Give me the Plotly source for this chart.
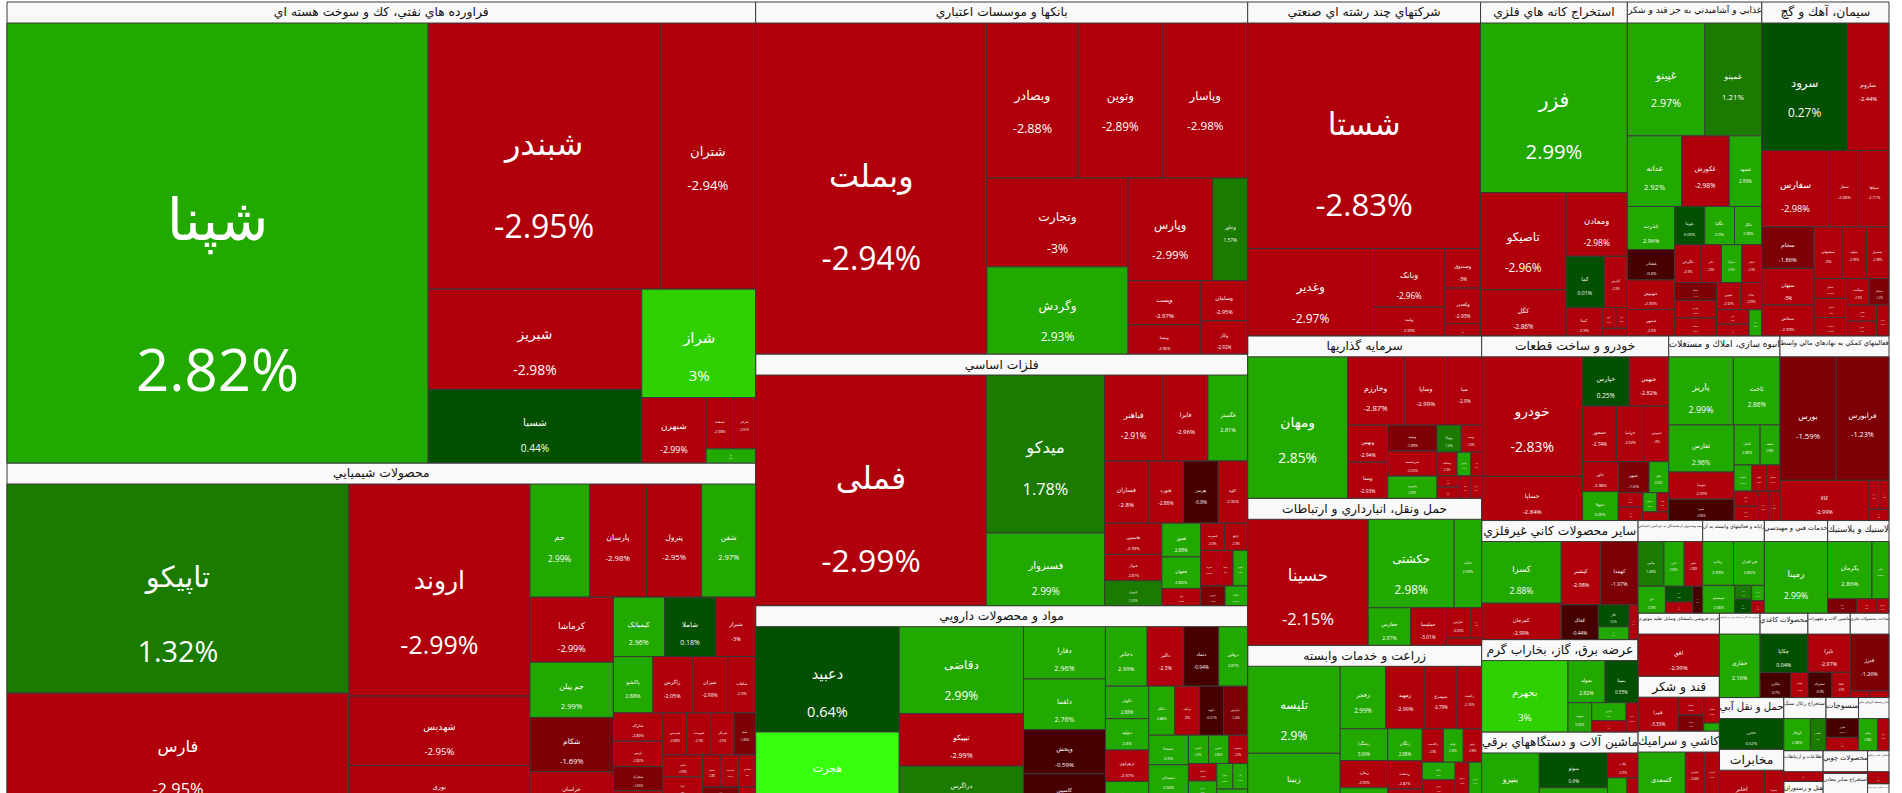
import plotly.graph_objects as go

# ------------------------------------------------------------------
# Data: (ticker, market value, daily change %) for every sector
# ------------------------------------------------------------------
OIL = [("شپنا", 192200, 2.82), ("شبندر", 64000, -2.95), ("شتران", 26400, -2.94),
       ("شبریز", 22200, -2.98), ("شسپا", 16300, 0.44), ("شراز", 12800, 3.0),
       ("شبهرن", 4370, -2.99), ("شنفت", 1460, -2.98), ("شرانل", 1180, -2.91), ("شاوان", 730, 2.99)]

CHEM = [("تاپیکو", 75300, 1.32), ("فارس", 42800, -2.95), ("اروند", 40450, -2.99),
        ("شهدیس", 13230, -2.95), ("نوری", 8880, -2.97), ("جم", 7100, 2.99),
        ("پارسان", 6800, -2.98), ("پترول", 6560, -2.95), ("شفن", 6440, 2.97),
        ("کرماشا", 5720, -2.99), ("جم پیلن", 4850, 2.99), ("شکام", 4760, -1.69),
        ("خراسان", 3550, -2.9), ("کیمیاتک", 3200, 2.96), ("شاملا", 3200, 0.18),
        ("شیراز", 2500, -3.0), ("پاکشو", 2340, 2.88), ("زاگرس", 2320, -2.05),
        ("شیران", 2110, -2.98), ("شلعاب", 1660, -2.9), ("شاراک", 1480, -2.89),
        ("پارس", 1320, -2.82), ("شخارک", 1270, -1.65), ("شغدیر", 1110, -2.9),
        ("شپدیس", 1060, -2.88), ("شوینده", 1080, -2.9), ("شرنگی", 1000, -2.9),
        ("شفا", 960, -1.46), ("شلرد", 920, -2.99), ("کرتا", 840, -3.0),
        ("شکلر", 630, -2.98), ("شجم", 630, -2.8), ("شصدف", 600, -2.9),
        ("شفارس", 570, -3.0), ("شسینا", 490, -1.2), ("شتوکا", 460, -1.8), ("شبصیر", 440, -2.95)]

BANKS = [("وبملت", 80600, -2.94), ("وبصادر", 14860, -2.88), ("وتوین", 13900, -2.89),
         ("وپاسار", 13810, -2.98), ("وتجارت", 13180, -3.0), ("وگردش", 12950, 2.93),
         ("وپارس", 9130, -2.99), ("وخاور", 3780, 1.57), ("وپست", 3390, -2.97),
         ("وسینا", 2250, -2.96), ("وسامان", 1970, -2.95), ("وکار", 1640, -2.92)]

METALS = [("فملی", 57440, -2.99), ("میدکو", 20190, 1.78), ("فسبزوار", 9280, 2.99),
          ("فباهنر", 5440, -2.91), ("فایرا", 4150, -2.96), ("فگستر", 3690, 2.81),
          ("فسازان", 2920, -2.8), ("فنورد", 2390, -2.88), ("هرمز", 2330, -0.8),
          ("کاوه", 1980, -2.95), ("فاسمین", 1930, -2.99), ("فنوال", 1630, -2.87),
          ("فروی", 1540, 1.22), ("فخوز", 1410, 2.88), ("فجهان", 1320, 2.84),
          ("فولاژ", 720, -2.88), ("فسرمد", 700, -2.9), ("ارفع", 680, -2.9),
          ("فمراد", 650, -2.99), ("فپنتا", 600, -3.0), ("فالوم", 560, 2.9),
          ("فزرین", 520, -1.3), ("فکاما", 480, 2.95)]

PHARMA = [("دعبید", 16670, 0.64), ("هجرت", 12660, 12.04), ("دقاضی", 11890, 2.99),
          ("تیپیکو", 7210, -2.99), ("دراگرس", 6280, 1.5), ("دفارا", 4730, 2.96),
          ("دلقما", 4580, 2.76), ("وپخش", 3980, -0.59), ("کاسپین", 3450, -0.9),
          ("دجابر", 2730, 2.99), ("دالبر", 2410, -2.3), ("دتماد", 2290, -0.94),
          ("درهآور", 1900, 2.87), ("دکوثر", 1550, 2.88), ("دتولید", 1500, 2.8),
          ("دزهراوی", 1500, -2.97), ("دسینا", 1460, 2.95), ("دبالک", 1400, 2.88),
          ("برکت", 1340, -3.0), ("داوه", 1300, -0.21), ("دپارس", 1300, -1.4),
          ("دسبحا", 1290, 2.9), ("دسبحان", 1260, 2.94), ("دتهران", 800, -2.9),
          ("دکیمی", 630, 2.9), ("دامین", 630, 2.96), ("دشیمی", 590, -2.9),
          ("دسانکو", 550, -2.97), ("دتوزیع", 500, 2.9), ("دیران", 470, -2.9),
          ("دفرا", 450, 2.95), ("دلر", 420, 2.9), ("دکپسول", 400, 2.93), ("دپادار", 380, -2.9)]

MULTI = [("شستا", 55500, -2.83), ("وغدیر", 11590, -2.97), ("وبانک", 4420, -2.96),
         ("وامید", 2170, -2.99), ("وصندوق", 1480, -3.0), ("وکغدیر", 1330, -2.93), ("وپویا", 460, -2.9)]

MINING = [("فزر", 26310, 2.99), ("تاصیکو", 8770, -2.96), ("کگل", 4160, -2.86),
          ("ومعادن", 4120, -2.98), ("کما", 2070, 0.01), ("کپارس", 1250, -2.9),
          ("کمنا", 1080, -2.9), ("کروی", 300, -2.9), ("کنور", 250, -2.95), ("کمنگنز", 200, -2.9)]

FOOD = [("غپینو", 9240, 2.97), ("غمینو", 6790, 1.21), ("غدانه", 4060, 2.92),
        ("غکورش", 3540, -2.98), ("غشهد", 2430, 2.99), ("غذرت", 2160, 2.96),
        ("غشاذر", 1520, -0.6), ("غبهنوش", 1480, -2.99), ("غبشهر", 1320, -2.9),
        ("غویتا", 1210, 0.05), ("غگلپا", 1200, 2.9), ("غگل", 1100, 2.98),
        ("غگرجی", 1050, -2.9), ("غاذر", 820, -2.9), ("غمارگ", 820, 2.9),
        ("غنیلی", 800, -2.9), ("غسالم", 780, -1.4), ("غفارس", 780, -2.95),
        ("غدشت", 780, -2.9), ("غچین", 700, -2.92), ("غپاک", 600, -2.99),
        ("غشان", 500, -2.9), ("غبهار", 400, -3.0), ("غزر", 350, 2.9)]

CEMENT = [("سرود", 11550, 0.27), ("ساروم", 5580, -2.44), ("سفارس", 5450, -2.98),
          ("سفار", 2450, -2.96), ("سپاها", 2360, -2.71), ("سجام", 2290, -1.86),
          ("سبهان", 2010, -3.0), ("سخاش", 1710, -2.99), ("سصوفی", 1530, -3.0),
          ("ساوه", 1330, -2.99), ("سشرق", 1240, -2.98), ("سفانو", 700, -2.99),
          ("سدور", 680, -3.0), ("سکرما", 650, -2.98), ("سهگمت", 600, -2.9),
          ("سمتاز", 550, -1.2), ("سقاین", 500, -2.9), ("سکارون", 450, -2.95), ("سغرب", 400, -2.9)]

INVEST = [("ومهان", 16070, 2.85), ("وخارزم", 4390, -2.87), ("وساپا", 3370, -2.99),
          ("صبا", 2660, -2.9), ("وبهمن", 1690, -2.94), ("وسنا", 1650, -2.93),
          ("وسپه", 1440, -1.89), ("سرچشمه", 1410, -2.55), ("وفیروزه", 1240, 2.99),
          ("وتوکا", 740, 1.3), ("وبیمه", 630, -2.9), ("وسکاب", 540, -2.9),
          ("وکبهمن", 370, 2.9), ("ولغدر", 290, -2.9), ("وآتوس", 290, -2.95),
          ("وسبحان", 290, -2.99), ("وصنا", 290, -3.0), ("ونیکی", 270, -2.9)]

TRANSPORT = [("حسینا", 17540, -2.15), ("حکشتی", 8770, 2.98), ("حتاید", 2820, 2.99),
             ("حفارس", 1840, 2.97), ("حملیسا", 1520, -3.01), ("حپارس", 880, -3.03),
             ("حسیر", 380, -2.9), ("حآسا", 300, -2.9)]

AGRI = [("تلیسه", 9120, 2.9), ("زبینا", 6150, 2.95), ("زفجر", 3210, 2.99),
        ("زمهید", 2780, -2.99), ("سیمرغ", 2280, -2.79), ("زکشت", 1740, -2.16),
        ("زشگزا", 1710, 3.06), ("زملارد", 1470, -2.99), ("زشریف", 1300, 2.96),
        ("زنگان", 1250, 2.98), ("زدشت", 1100, -2.87), ("زبرکت", 900, -3.0),
        ("زگلدشت", 800, -2.9), ("زقیام", 750, 2.95), ("زشیر", 700, -2.99),
        ("زمگسا", 650, 2.9), ("زپارس", 600, -2.9), ("زکوثر", 600, -2.88),
        ("زدماوند", 550, -2.9), ("زفارس", 500, 2.9), ("زگلپا", 450, -3.0)]

AUTO = [("خودرو", 13470, -2.83), ("خساپا", 4980, -2.84), ("خپارس", 2560, 0.25),
        ("خبهمن", 2180, -2.82), ("خمحور", 2100, -2.74), ("خزامیا", 1700, -2.92),
        ("خموتور", 1550, -3.0), ("خاور", 1190, -2.98), ("ختوقا", 1150, 3.06),
        ("خمهر", 1070, -1.5), ("خکار", 680, 3.02), ("خریخت", 400, -2.95),
        ("خنصیر", 370, -2.9), ("خشرق", 300, 2.9), ("خلنت", 250, -2.9), ("خفنر", 250, -2.9)]

REALESTATE = [("پاریز", 4910, 2.99), ("ثاخت", 3540, 2.86), ("ثفارس", 3440, 2.96),
              ("ثنوسا", 1990, -2.97), ("ثعمرا", 1550, -0.96), ("ثامان", 1170, 2.88),
              ("ثشاهد", 890, 2.98), ("ثتوسا", 520, 2.9), ("ثالوند", 420, -2.9),
              ("ثمسکن", 400, -2.9), ("ثقزوی", 400, -3.0), ("ثشرق", 380, -2.9),
              ("ثرود", 380, -2.9), ("ثاباد", 350, -2.95)]

AUXFIN = [("بورس", 7720, -1.59), ("فرابورس", 7310, -1.23), ("کالا", 4000, -2.99),
          ("انرژی", 350, -2.9), ("سپرده", 300, -2.95), ("نیرو", 250, -2.9)]

NONMETAL = [("کسرا", 5900, 2.88), ("کمرجان", 3480, -2.99), ("کپشیر", 3000, -2.98),
            ("کهمدا", 2840, -1.97), ("کفاک", 1550, -0.44), ("کگاز", 810, 0.5),
            ("کلوند", 470, 2.9), ("کساوه", 380, -2.9)]

ELEC = [("بجهرم", 7890, 3.0), ("بمولد", 2000, 2.82), ("بمپنا", 1780, 0.55),
        ("بپیوند", 890, 3.06), ("بزاگرس", 790, 2.9), ("بکهنوج", 500, -2.9), ("بفجر", 450, -2.95)]

MACHELEC = [("بنیرو", 4570, 2.94), ("بموتو", 3180, 0.6), ("بالبر", 2220, 2.9),
            ("بکاب", 1020, -2.9), ("بترانس", 890, 2.98), ("بشهاب", 510, -2.9)]

INSURANCE = [("بپاس", 1480, 1.49), ("البرز", 1160, 2.98), ("بکوثر", 1060, -2.98),
             ("دی", 940, 2.9), ("ما", 550, 0.5), ("ودی", 390, -2.9), ("بساما", 340, -0.8)]

COMPUTER = [("رتاپ", 1730, 2.99), ("فن افزار", 1730, 2.85), ("سیستم", 1140, 2.98),
            ("مفاخر", 300, 1.2), ("اعتلا", 300, 0.5), ("پرداخت", 250, 2.9), ("رکیش", 200, -2.9)]

ENGINEERING = [("رمپنا", 5800, 2.99)]

RUBBER = [("پکرمان", 3250, 2.86), ("پتایر", 1250, 2.96), ("پسهند", 530, -1.5),
          ("پلاسک", 370, -2.9), ("پدرخش", 220, -2.9)]

RETAIL = [("افق", 5080, -2.99)]
SUGAR = [("قپیرا", 2170, -3.33), ("قنیشا", 740, -2.95), ("قثابت", 660, -1.5),
         ("قشکر", 650, -2.9), ("قلرست", 200, 2.9)]
CERAMIC = [("کسعدی", 3790, 2.93), ("کفارس", 1090, -3.08), ("کسرام", 820, -2.9), ("کخاک", 820, -2.95)]
OILGAS = [("حفاری", 3400, 2.16)]
PAPER = [("چکاپا", 2420, 0.04), ("چکارن", 1020, -0.7), ("چفیبر", 560, -2.9)]
MACHINERY = [("تاپرا", 2130, -2.97), ("تمحرکه", 800, -0.9), ("تکشا", 610, -2.9)]
METALPROD = [("فنرژ", 2900, -1.26), ("فاذر", 170, -2.9), ("فتوسا", 170, -2.9)]
WATER = [("حخزر", 3290, 0.52)]
TELECOM = [("اخابر", 2800, -2.9), ("همراه", 1200, -2.95)]
COAL = [("کزغال", 1400, 2.98), ("کطبس", 820, 1.6)]
TEXTILE = [("نطرین", 1000, -0.7), ("نبروج", 710, -2.9)]
OTHERFIN = [("وکادو", 1000, 2.98), ("ولراز", 600, -2.9)]
INFO = [("آسیاتک", 1200, -2.9)]
HOTEL = [("گکیش", 700, -2.9), ("گدنا", 490, -2.9)]
WOOD = [("چوب", 1000, -2.9)]
MINEOTHER = [("کاما", 900, 2.9)]
TRADE = [("ولتجار", 800, -2.9)]
PRINT = [("چاپ", 700, -2.9)]
COMM = [("لپارس", 600, -2.95)]

SECTORS = [
    ("فراورده هاي نفتي، كك و سوخت هسته اي", OIL),
    ("محصولات شيميايي", CHEM),
    ("بانكها و موسسات اعتباري", BANKS),
    ("فلزات اساسي", METALS),
    ("مواد و محصولات دارويي", PHARMA),
    ("شركتهاي چند رشته اي صنعتي", MULTI),
    ("استخراج كانه هاي فلزي", MINING),
    ("غذايي و آشاميدني به جز قند و شكر", FOOD),
    ("سيمان، آهك و گچ", CEMENT),
    ("سرمايه گذاريها", INVEST),
    ("حمل ونقل، انبارداري و ارتباطات", TRANSPORT),
    ("زراعت و خدمات وابسته", AGRI),
    ("خودرو و ساخت قطعات", AUTO),
    ("انبوه سازي، املاك و مستغلات", REALESTATE),
    ("فعاليتهاي كمكي به نهادهاي مالي واسط", AUXFIN),
    ("ساير محصولات كاني غيرفلزي", NONMETAL),
    ("عرضه برق، گاز، بخاراب گرم", ELEC),
    ("ماشين آلات و دستگاههاي برقي", MACHELEC),
    ("بيمه وصندوق بازنشستگي به جزتامين اجتماعي", INSURANCE),
    ("رايانه و فعاليتهاي وابسته به آن", COMPUTER),
    ("خدمات فني و مهندسي", ENGINEERING),
    ("لاستيك و پلاستيك", RUBBER),
    ("خرده فروشي،باستثناي وسايل نقليه موتوري", RETAIL),
    ("قند و شكر", SUGAR),
    ("كاشي و سراميك", CERAMIC),
    ("استخراج نفت گاز و خدمات جنبي جز اكتشاف", OILGAS),
    ("محصولات كاغذي", PAPER),
    ("ماشين آلات و تجهيزات", MACHINERY),
    ("ساخت محصولات فلزي", METALPROD),
    ("حمل و نقل آبي", WATER),
    ("مخابرات", TELECOM),
    ("استخراج زغال سنگ", COAL),
    ("منسوجات", TEXTILE),
    ("ساير واسطه گريهاي مالي", OTHERFIN),
    ("اطلاعات و ارتباطات", INFO),
    ("هتل و رستوران", HOTEL),
    ("محصولات چوبي", WOOD),
    ("استخراج ساير معادن", MINEOTHER),
    ("تجارت عمده فروشي", TRADE),
    ("انتشار، چاپ و تكثير", PRINT),
    ("ساخت دستگاهها و وسايل ارتباطي", COMM),
]

# ------------------------------------------------------------------
# Layout / style settings
# ------------------------------------------------------------------
HEADER = 21                 # height of every sector header band
TOP, BOTTOM = 2, 812        # page rows covered by the treemap (it runs past the window)
M_L, M_R = 7, 13
FIG_W = 1902
SHIFT = HEADER - TOP        # the hidden root also reserves a header band: scroll it away
FIG_H = BOTTOM + SHIFT
PHI = (1 + 5 ** 0.5) / 2
LEAF_FONT = "Open Sans, DejaVu Sans, sans-serif"
HEAD_FONT = "DejaVu Sans, sans-serif"


def tile_color(c):
    if c >= 5:
        return "#38FF0C"
    if abs(c - 3.0) < 1e-9:
        return "#2ED000"
    if c >= 2:
        return "#22A900"
    if c >= 1:
        return "#1B7B00"
    if c >= 0:
        return "#035000"
    if c > -1:
        return "#470000"
    if c > -2:
        return "#7C0006"
    return "#AF000B"


def squarify(vals, x0, y0, x1, y1, ratio=PHI):
    """Same squarified tiling that d3 (and Plotly) use; only used to size label fonts."""
    n = len(vals)
    rects = [None] * n
    value = float(sum(vals))
    i0 = i1 = 0
    while i0 < n:
        dx, dy = x1 - x0, y1 - y0
        s = vals[i1]
        i1 += 1
        while not s and i1 < n:
            s = vals[i1]
            i1 += 1
        mn = mx = s
        alpha = max(dy / dx, dx / dy) / (value * ratio)
        beta = s * s * alpha
        best = max(mx / beta, beta / mn)
        while i1 < n:
            v = vals[i1]
            s2 = s + v
            mn2, mx2 = min(mn, v), max(mx, v)
            beta = s2 * s2 * alpha
            r = max(mx2 / beta, beta / mn2)
            if r > best:
                break
            s, mn, mx, best = s2, mn2, mx2, r
            i1 += 1
        if dx < dy:
            ny = y0 + dy * s / value
            xx = x0
            for j in range(i0, i1):
                w = (x1 - x0) * vals[j] / s
                rects[j] = (xx, y0, xx + w, ny)
                xx += w
            y0 = ny
        else:
            nx = x0 + dx * s / value
            yy = y0
            for j in range(i0, i1):
                h = (y1 - y0) * vals[j] / s
                rects[j] = (x0, yy, nx, yy + h)
                yy += h
            x0 = nx
        value -= s
        i0 = i1
    return rects


PW = FIG_W - M_L - M_R
PH = FIG_H
sector_totals = [sum(v for _, v, _ in items) for _, items in SECTORS]
sector_rects = squarify(sector_totals, 0, HEADER, PW, PH)

ids, labels, parents, values, colors = [], [], [], [], []
texts, sizes, tcolors, fams = [], [], [], []

# a slightly taller blank first line nudges each label block a little below centre
TOP_LINE = "<span style='font-size:1.4em'>\u00a0</span>"

for (sname, items), (sx0, sy0, sx1, sy1) in zip(SECTORS, sector_rects):
    ids.append(sname)
    labels.append(sname)
    parents.append("")
    values.append(0)
    colors.append("#F9F9F9")
    texts.append("<b>" + sname + "</b>")
    sizes.append(14)
    tcolors.append("#111111")
    fams.append(HEAD_FONT)
    leaf_rects = squarify([v for _, v, _ in items], sx0, sy0 + HEADER, sx1, sy1)
    for (name, val, ch), (x0, y0, x1, y1) in zip(items, leaf_rects):
        ids.append(sname + "/" + name)
        labels.append(name)
        parents.append(sname)
        values.append(val)
        colors.append(tile_color(ch))
        texts.append(TOP_LINE + "<br>" + name + "<br>\u00a0<br>" + f"{ch:g}%")
        sizes.append(max(1.0, 0.138 * min(x1 - x0, y1 - y0)))
        tcolors.append("#FFFFFF")
        fams.append(LEAF_FONT)

fig = go.Figure(go.Treemap(
    ids=ids, labels=labels, parents=parents, values=values,
    branchvalues="remainder", sort=False,
    text=texts, textinfo="text", textposition="middle center",
    textfont=dict(family=fams, size=sizes, color=tcolors),
    marker=dict(colors=colors, line=dict(color="#3A3A3A", width=1),
                pad=dict(t=HEADER, l=0, r=0, b=0), depthfade=False),
    tiling=dict(packing="squarify", squarifyratio=PHI, pad=0),
    pathbar=dict(visible=False),
    root=dict(color="white"),
    hoverinfo="skip",
))
fig.update_layout(width=FIG_W, height=FIG_H,
                  margin=dict(l=M_L, r=M_R, t=0, b=0, pad=0),
                  paper_bgcolor="white", plot_bgcolor="white", showlegend=False)

fig.write_html("out.html", post_script=(
    "document.documentElement.style.overflow='hidden';"
    "document.body.style.overflow='hidden';document.body.style.margin='0';"
    "var g=document.querySelector('.plotly-graph-div');"
    "if(g){g.style.marginTop='-%dpx';}" % SHIFT))
